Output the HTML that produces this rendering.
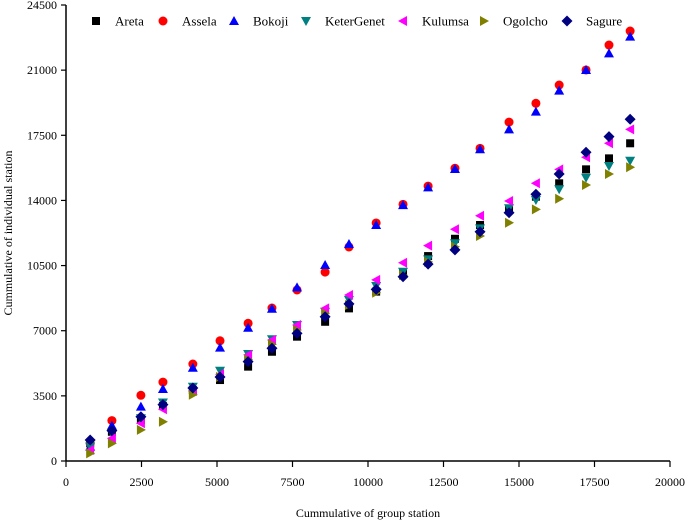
<!DOCTYPE html>
<html><head><meta charset="utf-8"><style>
body{margin:0;background:#fff}
svg text{font-family:"Liberation Serif",serif;fill:#000}
</style></head><body>
<svg id="chart" width="685" height="520" xmlns="http://www.w3.org/2000/svg"></svg>
<script>
const xValues=[800,1520,2480,3210,4200,5100,6030,6820,7650,8580,9370,10270,11160,11990,12880,13710,14670,15560,16330,17220,17980,18680];
const areta=[950,1570,2200,2950,3810,4350,5070,5870,6680,7480,8200,9100,10080,11010,11940,12680,13490,14200,14920,15670,16260,17070];
const assela=[950,2170,3530,4240,5210,6460,7400,8220,9190,10150,11500,12790,13790,14770,15730,16800,18210,19220,20200,21010,22350,23100];
const bokoji=[770,1900,2920,3870,5010,6090,7160,8180,9330,10530,11660,12680,13750,14700,15690,16750,17820,18770,19900,21010,21900,22800];
const keterGenet=[770,1490,2300,3140,3990,4850,5750,6540,7310,8020,8650,9400,10170,10830,11700,12500,13580,14020,14600,15220,15850,16130];
const kulumsa=[590,1220,2030,2780,3760,4660,5700,6500,7310,8200,8920,9730,10650,11570,12450,13180,13970,14920,15670,16320,17070,17820];
const ogolcho=[410,950,1670,2110,3560,4510,5460,6270,7040,7940,8380,9040,9990,10700,11510,12090,12800,13520,14090,14830,15420,15780];
const sagure=[1130,1630,2380,3030,3920,4510,5340,6060,6860,7750,8440,9220,9900,10580,11340,12320,13340,14330,15420,16590,17430,18360];
const xTicks=[0,2500,5000,7500,10000,12500,15000,17500,20000];
const yTicks=[0,3500,7000,10500,14000,17500,21000,24500];
const seriesNames=["Areta","Assela","Bokoji","KeterGenet","Kulumsa","Ogolcho","Sagure"];

const svg=document.getElementById('chart');
const NS='http://www.w3.org/2000/svg';
const X0=66,X1=670,Y0=461,Y1=5;
function xs(v){return X0+(v-0)/(20000-0)*(X1-X0);}
function ys(v){return Y0-(v-0)/(24500-0)*(Y0-Y1);}
function el(tag,attrs,parent){const e=document.createElementNS(NS,tag);for(const k in attrs)e.setAttribute(k,attrs[k]);(parent||svg).appendChild(e);return e;}

const series=[
 {name:"Areta",data:areta,color:"#000000",shape:"square"},
 {name:"Assela",data:assela,color:"#ff0000",shape:"circle"},
 {name:"Bokoji",data:bokoji,color:"#0000ff",shape:"up"},
 {name:"KeterGenet",data:keterGenet,color:"#008080",shape:"down"},
 {name:"Kulumsa",data:kulumsa,color:"#ff00ff",shape:"left"},
 {name:"Ogolcho",data:ogolcho,color:"#808000",shape:"right"},
 {name:"Sagure",data:sagure,color:"#000080",shape:"diamond"}
];
function marker(shape,cx,cy,color,parent){
  const s=4.5;let e;
  if(shape==="square") e=el('rect',{x:cx-s+0.5,y:cy-s+0.5,width:2*s-1,height:2*s-1,fill:color},parent);
  else if(shape==="circle") e=el('circle',{cx:cx,cy:cy,r:s,fill:color},parent);
  else {
    let p;
    if(shape==="up") p=[[cx,cy-s-0.5],[cx+s+0.5,cy+s-0.5],[cx-s-0.5,cy+s-0.5]];
    else if(shape==="down") p=[[cx,cy+s+0.5],[cx+s+0.5,cy-s+0.5],[cx-s-0.5,cy-s+0.5]];
    else if(shape==="left") p=[[cx-s-0.5,cy],[cx+s-0.5,cy-s-0.5],[cx+s-0.5,cy+s+0.5]];
    else if(shape==="right") p=[[cx+s+0.5,cy],[cx-s+0.5,cy-s-0.5],[cx-s+0.5,cy+s+0.5]];
    else p=[[cx,cy-s-1],[cx+s+1,cy],[cx,cy+s+1],[cx-s-1,cy]];
    e=el('polygon',{points:p.map(q=>q.join(',')).join(' '),fill:color},parent);
  }
  return e;
}

// axes
const ax=el('line',{x1:X0,y1:Y0,x2:X1,y2:Y0,stroke:'#000','stroke-width':1.5});


const ay=el('line',{x1:X0,y1:Y0,x2:X0,y2:Y1,stroke:'#000','stroke-width':1.5});


xTicks.forEach(t=>{
  const x=xs(t);
  const tk=el('line',{x1:x,y1:Y0,x2:x,y2:Y0+6,stroke:'#000','stroke-width':1.2});
  
  
  const tx=el('text',{x:x,y:486,'text-anchor':'middle','font-size':12});
  tx.textContent=t;
  
  
});
yTicks.forEach(t=>{
  const y=ys(t);
  const tk=el('line',{x1:X0-5,y1:y,x2:X0,y2:y,stroke:'#000','stroke-width':1.2});
  
  
  const tx=el('text',{x:X0-9,y:y+4,'text-anchor':'end','font-size':12});
  tx.textContent=t;
  
  
});
const xt=el('text',{x:368,y:517,'text-anchor':'middle','font-size':12});
xt.textContent='Cummulative of group station';


const yt=el('text',{x:0,y:0,'text-anchor':'middle','font-size':12,transform:'translate(12,233) rotate(-90)'});
yt.textContent='Cummulative of individual station';



// points
series.forEach(s=>{
  const g=el('g',{});
  
  
  s.data.forEach((v,i)=>{
    const m=marker(s.shape,xs(xValues[i]),ys(v),s.color,g);
    
    
  });
});

// legend
const legX=[96,163,234,306,403,484,567];
const lg=el('g',{});


series.forEach((s,i)=>{
  const g=el('g',{},lg);
  
  
  marker(s.shape,legX[i],21,s.color,g);
  const t=el('text',{x:legX[i]+19,y:25.5,'font-size':13},g);
  t.textContent=seriesNames[i];
});
</script>
</body></html>
